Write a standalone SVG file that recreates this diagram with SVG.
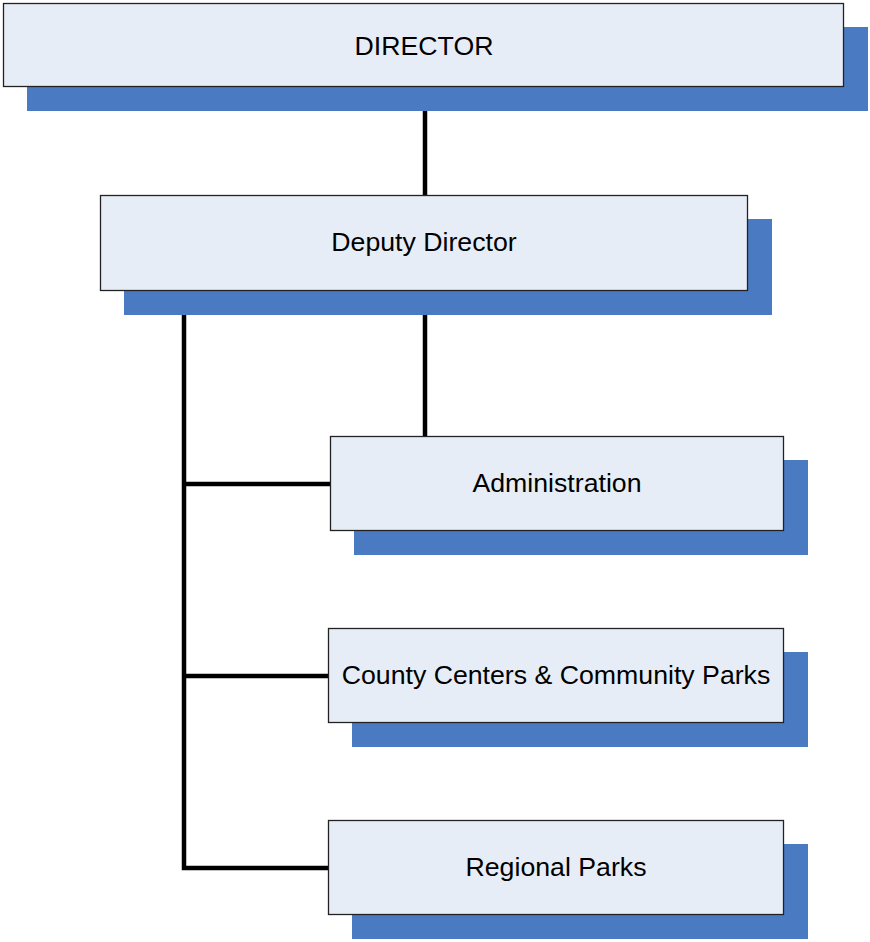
<svg xmlns="http://www.w3.org/2000/svg" width="870" height="942" viewBox="0 0 870 942">
<style>
.sh{fill:#4A7AC2}
.bx{fill:#E7EDF7;stroke:#222;stroke-width:1.3}
.t{font-family:"Liberation Sans",Arial,sans-serif;font-size:26.7px;fill:#000;text-anchor:middle}
.c{fill:none;stroke:#000;stroke-width:4.5;stroke-linejoin:miter}
</style>
<rect width="870" height="942" fill="#fff"/>
<g id="connectors">
<path class="c" d="M425 111V195"/>
<path class="c" d="M425 315V436"/>
<path class="c" d="M184 315V868H328"/>
<path class="c" d="M184 484H330"/>
<path class="c" d="M184 676H328"/>
</g>
<g id="director">
<rect class="sh" x="27" y="27" width="841" height="84"/>
<rect class="bx" x="3.5" y="3.5" width="840" height="83"/>
<text class="t" x="424" y="55">DIRECTOR</text>
</g>
<g id="deputy">
<rect class="sh" x="124" y="219" width="648" height="96"/>
<rect class="bx" x="100.5" y="195.5" width="647" height="95"/>
<text class="t" x="424" y="251">Deputy Director</text>
</g>
<g id="administration">
<rect class="sh" x="354" y="460" width="454" height="95"/>
<rect class="bx" x="330.5" y="436.5" width="453" height="94"/>
<text class="t" x="557" y="492">Administration</text>
</g>
<g id="county">
<rect class="sh" x="352" y="652" width="456" height="95"/>
<rect class="bx" x="328.5" y="628.5" width="455" height="94"/>
<text class="t" x="556" y="684">County Centers &amp; Community Parks</text>
</g>
<g id="regional">
<rect class="sh" x="352" y="844" width="456" height="95"/>
<rect class="bx" x="328.5" y="820.5" width="455" height="94"/>
<text class="t" x="556" y="876">Regional Parks</text>
</g>
</svg>
